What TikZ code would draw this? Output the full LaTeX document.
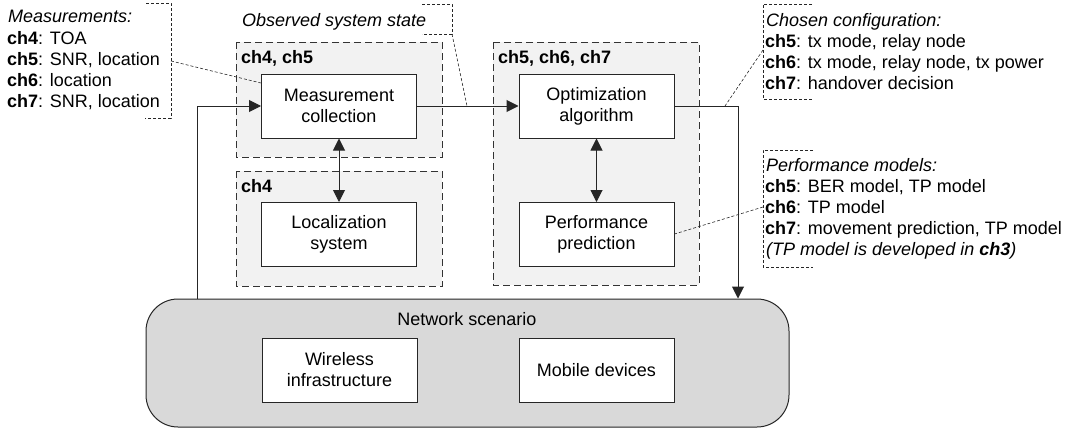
\documentclass[tikz,border=0pt]{standalone}
\usepackage{fontspec}
\setmainfont{Liberation Sans}
\usetikzlibrary{arrows.meta}
\newcommand{\myfs}{\fontsize{18pt}{21pt}\selectfont}
\begin{document}
\begin{tikzpicture}[x=1pt,y=-1pt,
  box/.style={draw=black!85,fill=white,line width=1pt,minimum width=155pt,minimum height=64pt,align=center,font=\myfs,inner sep=0pt},
  grp/.style={draw=black!80,fill=black!5,line width=0.9pt,dash pattern=on 7pt off 4pt},
  conn/.style={draw=black!85,line width=1pt},
  arr/.style={conn,-{Triangle[length=12pt,width=12pt]}},
  darr/.style={conn,{Triangle[length=12pt,width=12pt]}-{Triangle[length=12pt,width=12pt]}},
  lead/.style={draw=black!85,line width=0.6pt,dash pattern=on 3pt off 2pt},
  txt/.style={anchor=base west,inner sep=0pt,font=\myfs},
]
\useasboundingbox (0,0) rectangle (1072,431);

% groups
\path[grp] (236,42) rectangle (442,157);
\path[grp] (236,171) rectangle (442,286);
\path[grp] (493,42) rectangle (699,285);
\node[txt] (g1l) at (241,63) {\textbf{ch4, ch5}};
\node[txt] (g2l) at (241,192) {\textbf{ch4}};
\node[txt] (g3l) at (498,63) {\textbf{ch5, ch6, ch7}};

% network scenario
\node[draw=black!85,fill=black!15,line width=1pt,rounded corners=32pt,minimum width=643pt,minimum height=128pt,inner sep=0pt] (net) at (467.5,363) {};
\node[txt,anchor=base] (netl) at (467,325) {Network scenario};

% boxes
\node[box] (mc) at (339,106) {Measurement\\collection};
\node[box] (loc) at (339,234.5) {Localization\\system};
\node[box] (opt) at (596.5,106) {Optimization\\algorithm};
\node[box] (perf) at (596.5,234.5) {Performance\\prediction};
\node[box] (wi) at (339.5,370) {Wireless\\infrastructure};
\node[box] (md) at (596.5,370) {Mobile devices};

% connectors
\draw[arr] (mc.east) -- (opt.west);
\draw[darr] (mc.south) -- (loc.north);
\draw[darr] (opt.south) -- (perf.north);
\coordinate (outc) at (738,106);
\draw[arr] (opt.east) -- (outc) -- (outc |- net.north);
\coordinate (fbc) at (197,106);
\draw[arr] (fbc |- net.north) -- (fbc) -- (mc.west);

% Measurements annotation
\node[txt] (m0) at (8,23) {\textit{Measurements:}};
\node[txt] (m1) at (7,44) {\textbf{ch4}: TOA};
\node[txt] (m2) at (7,65) {\textbf{ch5}: SNR, location};
\node[txt] (m3) at (7,86) {\textbf{ch6}: location};
\node[txt] (m4) at (7,107) {\textbf{ch7}: SNR, location};
\draw[lead] (146,3) -- (171,3) -- (171,118) -- (145,118);
\coordinate (mlead) at (171,61);
\draw[lead] (mlead) -- (mc.north west |- 0,83);

% Observed system state
\node[txt] (obs) at (242,26) {\textit{Observed system state}};
\draw[lead] (422,4) -- (452,4) -- (452,34) -- (422,34);
\coordinate (olead) at (452,34);
\coordinate (oend) at (467,106);
\draw[lead] (olead) -- (oend);

% Chosen configuration
\node[txt] (c0) at (766,26) {\textit{Chosen configuration:}};
\node[txt] (c1) at (765,47) {\textbf{ch5}: tx mode, relay node};
\node[txt] (c2) at (765,68) {\textbf{ch6}: tx mode, relay node, tx power};
\node[txt] (c3) at (765,89) {\textbf{ch7}: handover decision};
\draw[lead] (812,4) -- (763,4) -- (763,99) -- (812,99);
\coordinate (clead) at (763,50);
\coordinate (cend) at (725,106);
\draw[lead] (clead) -- (cend);

% Performance models
\node[txt] (p0) at (766,171) {\textit{Performance models:}};
\node[txt] (p1) at (765,192) {\textbf{ch5}: BER model, TP model};
\node[txt] (p2) at (765,213) {\textbf{ch6}: TP model};
\node[txt] (p3) at (765,234) {\textbf{ch7}: movement prediction, TP model};
\node[txt] (p4) at (766,255) {\textit{(TP model is developed in \textbf{ch3})}};
\draw[lead] (813,150) -- (763,150) -- (763,267) -- (813,267);
\coordinate (plead) at (763,207);
\draw[lead] (plead) -- (perf.east |- 0,234);
\end{tikzpicture}
\end{document}
